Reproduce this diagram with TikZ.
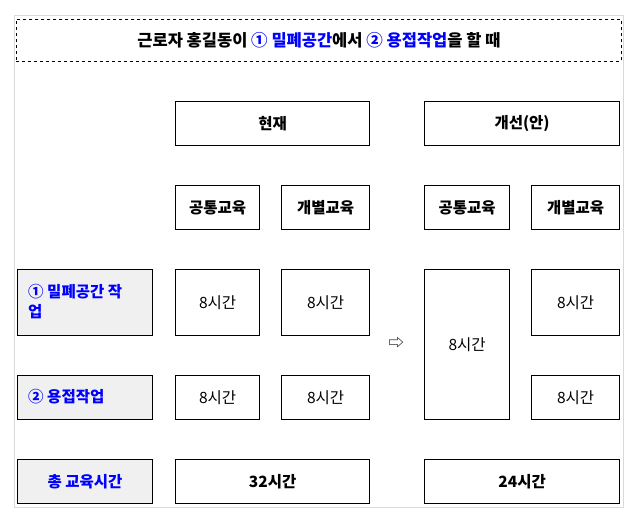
\documentclass[tikz,border=0pt]{standalone}
\usepackage{fontspec}
\setmainfont{Noto Sans CJK KR}
\newcommand\fz{\fontsize{15.5}{18}\selectfont}
\begin{document}
\begin{tikzpicture}[x=1pt,y=-1pt,
  bx/.style={draw=black,line width=1.2pt,fill=white,inner sep=0pt},
  hd/.style={bx},
  lb/.style={bx,line width=0.9pt,fill=gray!12}]
\useasboundingbox (0,0) rectangle (634,518);
\draw[gray!30] (14,15) rectangle (623,507);
\node[draw,dashed,line width=0.9pt,minimum width=605pt,minimum height=42pt,inner sep=0pt,anchor=north west,font=\fontsize{16.5}{18}\selectfont\bfseries] (title) at (16,19) {근로자 홍길동이 \textcolor{blue}{① 밀폐공간}에서 \textcolor{blue}{② 용접작업}을 할 때};
\newcommand\bxat[6]{\node[#1,minimum width=#4-#2,minimum height=#5-#3,anchor=north west] (#6) at (#2,#3) {};}
\bxat{hd}{175}{101}{369}{145}{cur}\node at (cur) {\fz\bfseries 현재};
\bxat{hd}{424}{101}{619}{145}{imp}\node at (imp) {\fz\bfseries 개선(안)};
\bxat{hd}{175}{185}{259}{229}{c1}\node at (c1) {\fz\bfseries 공통교육};
\bxat{hd}{281}{185}{369}{229}{c2}\node at (c2) {\fz\bfseries 개별교육};
\bxat{hd}{424}{185}{509}{229}{i1}\node at (i1) {\fz\bfseries 공통교육};
\bxat{hd}{531}{185}{619}{229}{i2}\node at (i2) {\fz\bfseries 개별교육};
\bxat{lb}{17}{269}{152}{335}{l1}
\node[text=blue,font=\fontsize{15.5}{20}\selectfont\bfseries,align=left,anchor=west,inner sep=0pt] at (28,302) {① 밀폐공간 작\\업};
\bxat{lb}{17}{375}{152}{419}{l2}
\node[text=blue,font=\fz\bfseries,anchor=west,inner sep=0pt] at (28,397) {② 용접작업};
\bxat{lb}{17}{459}{152}{503}{l3}
\node[text=blue,font=\fz\bfseries] at (l3) {총 교육시간};
\bxat{bx}{175}{269}{259}{335}{a1}\node at (a1) {\fz 8시간};
\bxat{bx}{281}{269}{369}{335}{a2}\node at (a2) {\fz 8시간};
\bxat{bx}{175}{375}{259}{419}{b1}\node at (b1) {\fz 8시간};
\bxat{bx}{281}{375}{369}{419}{b2}\node at (b2) {\fz 8시간};
\bxat{bx}{424}{269}{509}{419}{t1}\node at (t1) {\fz 8시간};
\bxat{bx}{531}{269}{619}{335}{t2}\node at (t2) {\fz 8시간};
\bxat{bx}{531}{375}{619}{419}{t3}\node at (t3) {\fz 8시간};
\bxat{hd}{175}{459}{369}{503}{s1}\node at (s1) {\fz\bfseries 32시간};
\bxat{hd}{424}{459}{619}{503}{s2}\node at (s2) {\fz\bfseries 24시간};
\node (arr) at (396,343) {\fz ⇨};
\end{tikzpicture}
\end{document}
